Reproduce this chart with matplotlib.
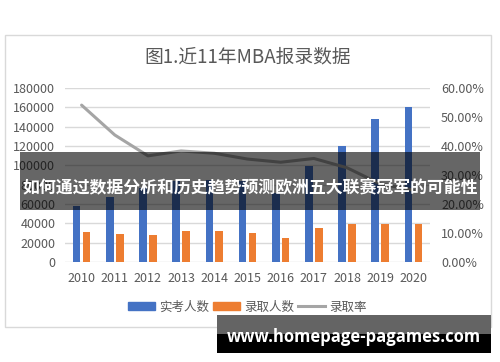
import matplotlib
matplotlib.use('Agg')
import matplotlib.pyplot as plt
from matplotlib.patches import Rectangle, Patch
from matplotlib.lines import Line2D
import numpy as np

plt.rcParams['font.family'] = ['Noto Sans CJK SC', 'DejaVu Sans']

# data
years = ['2010', '2011', '2012', '2013', '2014', '2015', '2016', '2017', '2018', '2019', '2020']
takers = [58000, 67000, 77000, 84000, 85000, 84000, 71000, 99000, 120000, 147500, 160000]
admitted = [31000, 29300, 28300, 32400, 32000, 30000, 24800, 35200, 39000, 39700, 39700]
rate = [54.1, 43.8, 36.6, 38.3, 37.5, 35.5, 34.4, 35.7, 32.5, 26.9, 24.8]

title = '图1.近11年MBA报录数据'
banner = '如何通过数据分析和历史趋势预测欧洲五大联赛冠军的可能性'
site = 'www.homepage-pagames.com'

blue = '#4472C4'
orange = '#ED7D31'
grey = '#A5A5A5'
txt = '#595959'

W, H = 500, 362
fig = plt.figure(figsize=(W / 100, H / 100), dpi=100)


def fx(px):
    return px / W


def fy(py):
    return 1 - py / H


ax = fig.add_axes([fx(65), fy(262), fx(430) - fx(65), fy(88) - fy(262)])
ax2 = ax.twinx()

x = np.arange(len(years))
ax.bar(x - 0.15, takers, width=0.23, color=blue, zorder=2)
ax.bar(x + 0.15, admitted, width=0.23, color=orange, zorder=2)
ax2.plot(x, rate, color=grey, lw=2.2, solid_capstyle='round')

ax.set_xlim(-0.5, len(years) - 0.5)
ax.set_ylim(0, 180000)
ax.set_yticks(np.arange(0, 180001, 20000))
ax.set_xticks(x)
ax.set_xticklabels(years)
ax2.set_ylim(0, 60)
ax2.set_yticks(np.arange(0, 61, 10))
ax2.set_yticklabels(['{:.2f}%'.format(v) for v in np.arange(0, 61, 10)])

ax.grid(axis='y', color='#D9D9D9', lw=1, zorder=0)
ax.set_axisbelow(True)
for a in (ax, ax2):
    for s in a.spines.values():
        s.set_visible(False)
    a.tick_params(length=0, labelsize=9, labelcolor=txt)
ax.tick_params(axis='y', pad=7)
ax.tick_params(axis='x', pad=7)
ax2.tick_params(axis='y', pad=8)

# chart frame and title
fig.patches.append(Rectangle((fx(5), fy(327)), fx(491) - fx(5), fy(35) - fy(327),
                             transform=fig.transFigure, fill=False, ec='#D9D9D9', lw=1))
fig.text(0.495, fy(57), title, ha='center', va='center', fontsize=13.5, color=txt)

handles = [Patch(color=blue), Patch(color=orange), Line2D([0], [0], color=grey, lw=2.2)]
fig.legend(handles, ['实考人数', '录取人数', '录取率'], loc='center', ncol=3,
           bbox_to_anchor=(0.494, fy(307)), frameon=False, fontsize=9,
           labelcolor=txt, handlelength=2.2, handleheight=0.6,
           handletextpad=0.3, columnspacing=0.3)

# overlay banner
fig.patches.append(Rectangle((fx(20), fy(210)), fx(480) - fx(20), fy(152) - fy(210),
                             transform=fig.transFigure, color='black', alpha=0.6, lw=0, zorder=5))
fig.text(0.5, fy(187), banner, ha='center', va='center', fontsize=12.2,
         fontweight='bold', color='white', zorder=6)

# watermark box
fig.patches.append(Rectangle((fx(217), fy(334)), fx(491) - fx(217), fy(315) - fy(334),
                             transform=fig.transFigure, color='#646464', lw=0, zorder=5))
fig.patches.append(Rectangle((fx(217), fy(353)), fx(491) - fx(217), fy(334) - fy(353),
                             transform=fig.transFigure, color='black', lw=0, zorder=5))
fig.text(fx(353.5), fy(337), site, ha='center', va='center', fontsize=12,
         fontweight='bold', color='white', family=['Open Sans', 'DejaVu Sans'], zorder=6)

fig.savefig('out.png', dpi=100, facecolor='white')
